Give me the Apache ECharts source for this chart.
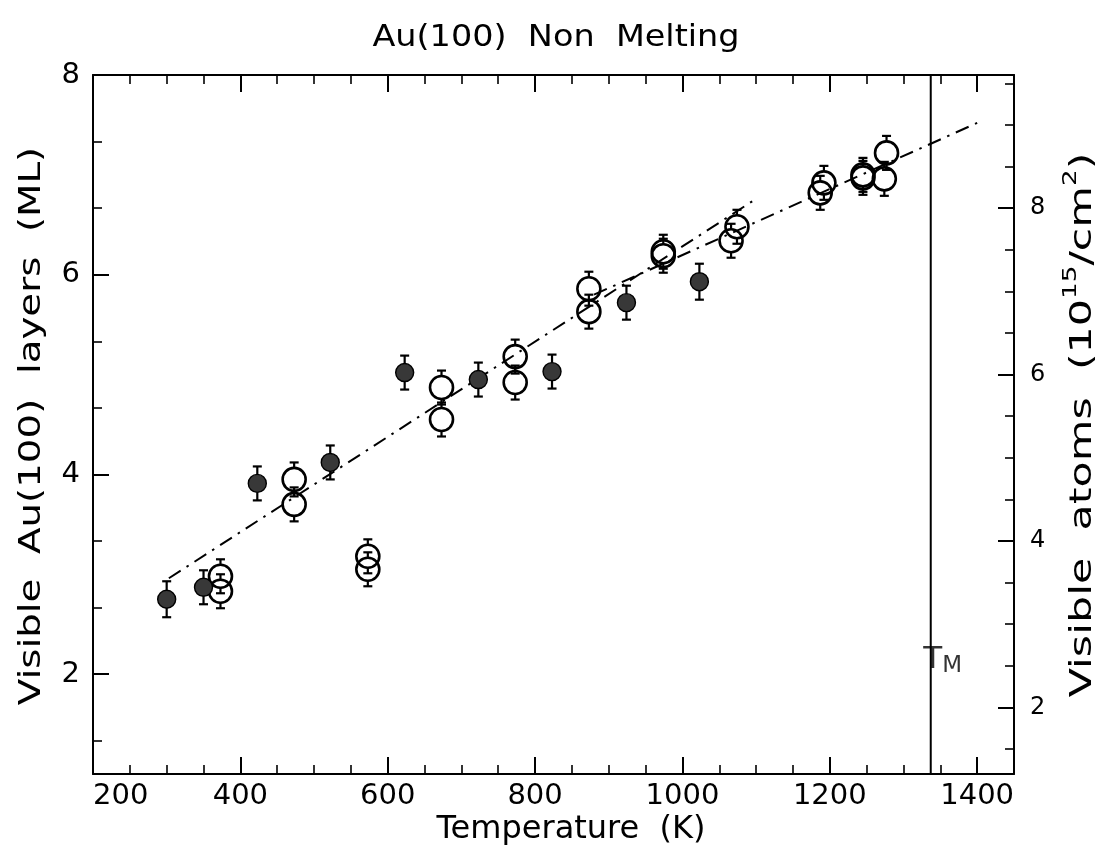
<!DOCTYPE html>
<html>
<head>
<meta charset="utf-8">
<title>Au(100) Non Melting</title>
<script src="https://cdn.jsdelivr.net/npm/echarts@6/dist/echarts.min.js"></script>
<style>
  html, body { margin: 0; padding: 0; background: #fff; }
  #chart { width: 1105px; height: 860px; }
</style>
</head>
<body>
<div id="chart"></div>
<script>
// Temperature (K) and visible layer count (ML) for the two sample sets
const filledT   = [300, 350, 423, 522, 623, 723, 823, 924, 1023];
const filledML  = [2.75, 2.87, 3.91, 4.12, 5.02, 4.95, 5.03, 5.72, 5.93];
const filledErr = [0.18, 0.17, 0.17, 0.17, 0.17, 0.17, 0.17, 0.17, 0.18];

const openT   = [373, 373, 473, 473, 573, 573, 673, 673, 773, 773, 873, 873,
                 974, 974, 1066, 1074, 1187, 1192, 1245, 1245, 1274, 1277];
const openML  = [2.98, 2.83, 3.95, 3.70, 3.18, 3.05, 4.87, 4.55, 5.18, 4.92, 5.86, 5.63,
                 6.23, 6.19, 6.34, 6.48, 6.82, 6.92, 7.00, 6.97, 6.96, 7.22];
const openErr = [0.17, 0.17, 0.17, 0.17, 0.17, 0.17, 0.17, 0.17, 0.17, 0.17, 0.17, 0.17,
                 0.17, 0.17, 0.17, 0.17, 0.17, 0.17, 0.17, 0.17, 0.17, 0.17];

// Linear fits (dash-dot)
const fitLowT   = [303, 1100];
const fitLowML  = [2.96, 6.76];
const fitHighT  = [880, 1400];
const fitHighML = [5.80, 7.52];

// Bulk melting temperature
const meltT = 1337;
const meltLabelML = 2.14;

// Axis ranges and ticks
const tempMin = 200, tempMax = 1450, tempStep = 200;
const mlMin = 1, mlMax = 8;
const atomsPerML = 1.2;               // 10^15 atoms/cm^2 per Au(100) layer
const leftLabels  = [2, 4, 6, 8];
const leftMinor   = [1.3333, 2.6667, 3.3333, 4.6667, 5.3333, 6.6667, 7.3333];
const rightLabels = [2, 4, 6, 8];
const rightMinor  = [1.5, 2.5, 3, 3.5, 4.5, 5, 5.5, 6.5, 7, 7.5, 8.5, 9, 9.5];

const FONT = '"DejaVu Sans", "Liberation Sans", sans-serif';
const zip3 = (a, b, c) => a.map((v, i) => [v, b[i], c[i]]);
const zip2 = (a, b) => a.map((v, i) => [v, b[i]]);
const plain = v => String(v);

function errorBars(radius) {
  return function (params, api) {
    const x = api.value(0), y = api.value(1), e = api.value(2);
    const c = api.coord([x, y]);
    const hi = api.coord([x, y + e]);
    const lo = api.coord([x, y - e]);
    const cap = 4.5;
    const st = { stroke: '#000', lineWidth: 2.2 };
    const kids = [];
    if (c[1] - radius > hi[1]) {
      kids.push({ type: 'line', shape: { x1: c[0], y1: hi[1], x2: c[0], y2: c[1] - radius }, style: st });
    }
    if (c[1] + radius < lo[1]) {
      kids.push({ type: 'line', shape: { x1: c[0], y1: c[1] + radius, x2: c[0], y2: lo[1] }, style: st });
    }
    kids.push({ type: 'line', shape: { x1: c[0] - cap, y1: hi[1], x2: c[0] + cap, y2: hi[1] }, style: st });
    kids.push({ type: 'line', shape: { x1: c[0] - cap, y1: lo[1], x2: c[0] + cap, y2: lo[1] }, style: st });
    return { type: 'group', children: kids };
  };
}

const axisLine = { show: true, lineStyle: { color: '#000', width: 2 } };
const fitStyle = { color: '#000', width: 2, type: [14, 7, 2.5, 7] };

const chart = echarts.init(document.getElementById('chart'), null, { renderer: 'canvas' });

chart.setOption({
  backgroundColor: '#fff',
  animation: false,
  grid: { left: 93, right: 91, top: 75, bottom: 86, containLabel: false },
  xAxis: [
    {
      type: 'value', position: 'bottom', min: tempMin, max: tempMax, interval: tempStep,
      axisLine: axisLine,
      axisTick: { show: true, inside: true, length: 17, lineStyle: { color: '#000', width: 2 } },
      minorTick: { show: true, splitNumber: 4, length: 9, lineStyle: { color: '#000', width: 1.6 } },
      axisLabel: { show: true, color: '#000', fontSize: 29, fontFamily: FONT, margin: 8,
                   alignMinLabel: 'left', showMaxLabel: false, formatter: plain },
      splitLine: { show: false }
    },
    {
      type: 'value', position: 'top', min: tempMin, max: tempMax, interval: tempStep,
      axisLine: axisLine,
      axisTick: { show: true, inside: true, length: 17, lineStyle: { color: '#000', width: 2 } },
      minorTick: { show: true, splitNumber: 4, length: 9, lineStyle: { color: '#000', width: 1.6 } },
      axisLabel: { show: false },
      splitLine: { show: false }
    }
  ],
  yAxis: [
    {
      type: 'value', position: 'left', min: mlMin, max: mlMax,
      axisLine: axisLine,
      axisTick: { show: true, inside: true, length: 16, customValues: leftLabels, lineStyle: { color: '#000', width: 2 } },
      axisLabel: { show: true, color: '#000', fontSize: 29, fontFamily: FONT, margin: 13,
                   customValues: leftLabels, formatter: plain },
      splitLine: { show: false }
    },
    {
      type: 'value', position: 'left', min: mlMin, max: mlMax,
      axisLine: { show: false },
      axisTick: { show: true, inside: true, length: 9, customValues: leftMinor, lineStyle: { color: '#000', width: 1.6 } },
      axisLabel: { show: false },
      splitLine: { show: false }
    },
    {
      type: 'value', position: 'right', min: mlMin * atomsPerML, max: mlMax * atomsPerML,
      axisLine: axisLine,
      axisTick: { show: true, inside: true, length: 16, customValues: rightLabels, lineStyle: { color: '#000', width: 2 } },
      axisLabel: { show: true, color: '#000', fontSize: 24, fontFamily: FONT, margin: 16,
                   customValues: rightLabels, formatter: plain },
      splitLine: { show: false }
    },
    {
      type: 'value', position: 'right', min: mlMin * atomsPerML, max: mlMax * atomsPerML,
      axisLine: { show: false },
      axisTick: { show: true, inside: true, length: 9, customValues: rightMinor, lineStyle: { color: '#000', width: 1.6 } },
      axisLabel: { show: false },
      splitLine: { show: false }
    }
  ],
  graphic: [
    {
      type: 'text', x: 556, y: 38, scaleX: 1.08,
      style: { text: 'Au(100)  Non  Melting', fontSize: 31, fontFamily: FONT, fill: '#000', align: 'center', verticalAlign: 'middle' }
    },
    {
      type: 'text', x: 571, y: 830, scaleX: 1.0,
      style: { text: 'Temperature  (K)', fontSize: 32, fontFamily: FONT, fill: '#000', align: 'center', verticalAlign: 'middle' }
    },
    {
      type: 'text', x: 32, y: 426, rotation: Math.PI / 2, scaleX: 1.25,
      style: { text: 'Visible  Au(100)  layers  (ML)', fontSize: 31, fontFamily: FONT, fill: '#000', align: 'center', verticalAlign: 'middle' }
    },
    {
      type: 'text', x: 1083, y: 425, rotation: Math.PI / 2, scaleX: 1.38,
      style: {
        text: 'Visible  atoms  (10{sup|15}/cm{sup|2})', fontSize: 31, fontFamily: FONT, fill: '#000',
        align: 'center', verticalAlign: 'middle', lineHeight: 42,
        rich: { sup: { fontSize: 19, fontFamily: FONT, fill: '#000', verticalAlign: 'top', lineHeight: 19 } }
      }
    }
  ],
  series: [
    {
      name: 'fit low', type: 'line', data: zip2(fitLowT, fitLowML), showSymbol: false, symbol: 'none',
      lineStyle: fitStyle, z: 1, silent: true
    },
    {
      name: 'fit high', type: 'line', data: zip2(fitHighT, fitHighML), showSymbol: false, symbol: 'none',
      lineStyle: fitStyle, z: 1, silent: true
    },
    {
      name: 'T_M', type: 'line', data: [[meltT, mlMin], [meltT, mlMax]], showSymbol: false, symbol: 'none',
      lineStyle: { color: '#000', width: 2 }, z: 1, silent: true
    },
    {
      name: 'T_M label', type: 'scatter', data: [[meltT, meltLabelML]], symbolSize: 1,
      itemStyle: { color: 'transparent' }, silent: true,
      label: {
        show: true, position: [-7, 0], align: 'left', verticalAlign: 'middle',
        formatter: '{t|T}{s|M}',
        rich: {
          t: { fontSize: 31, fontFamily: FONT, color: '#000', lineHeight: 36 },
          s: { fontSize: 23, fontFamily: FONT, color: '#000', verticalAlign: 'bottom', lineHeight: 23 }
        }
      }
    },
    {
      name: 'open', type: 'scatter', data: zip2(openT, openML), symbol: 'circle', symbolSize: 23,
      itemStyle: { color: 'rgba(255,255,255,0)', borderColor: '#000', borderWidth: 2.6, opacity: 1 }, z: 3
    },
    {
      name: 'filled', type: 'scatter', data: zip2(filledT, filledML), symbol: 'circle', symbolSize: 18,
      itemStyle: { color: '#383838', borderColor: '#000', borderWidth: 1.4, opacity: 1 }, z: 3
    },
    {
      name: 'open err', type: 'custom', data: zip3(openT, openML, openErr),
      renderItem: errorBars(11.5), z: 4, silent: true
    },
    {
      name: 'filled err', type: 'custom', data: zip3(filledT, filledML, filledErr),
      renderItem: errorBars(9), z: 4, silent: true
    }
  ]
});
</script>
</body>
</html>
